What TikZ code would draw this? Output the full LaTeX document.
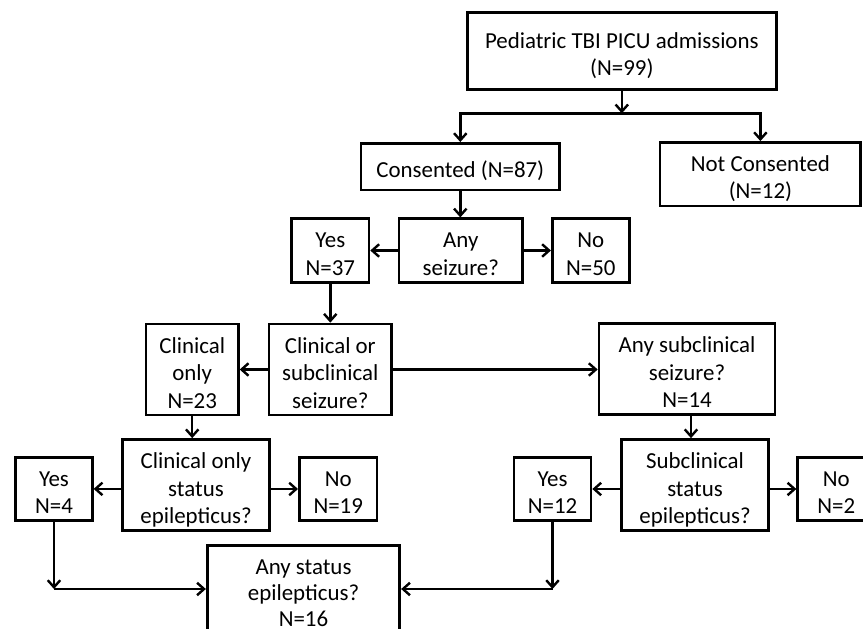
\documentclass[tikz,border=0pt]{standalone}
\usepackage{fontspec}
\setmainfont{Carlito}
\usetikzlibrary{arrows.meta}
\newcommand{\myupstrut}{\rule{0pt}{29pt}}
\newcommand{\mydownstrut}{\rule[-7pt]{0pt}{7pt}}
\begin{document}
\begin{tikzpicture}[x=1pt,y=-1pt,
  box/.style={draw=black, line width=2.7pt, fill=white, align=center, inner sep=0pt,
    font=\fontsize{22.9pt}{27.5pt}\selectfont},
  arr/.style={draw=black, line width=2.4pt, -{Straight Barb[length=7pt,width=12.5pt]}}]
\useasboundingbox (0,0) rectangle (863,629);
\clip (0,0) rectangle (863,629);
\fill[white] (0,0) rectangle (863,629);

\node[box, minimum width=309pt, minimum height=77pt] (top) at (621.8,50.8) {\myupstrut Pediatric TBI PICU admissions\\(N=99)\mydownstrut};
\node[box, minimum width=198.6pt, minimum height=46.7pt] (cons) at (460.3,166.7) {\myupstrut Consented (N=87)\mydownstrut};
\node[box, minimum width=200.7pt, minimum height=61.7pt] (notcons) at (760.4,174.2) {\myupstrut Not Consented\\(N=12)\mydownstrut};
\node[box, minimum width=77.3pt, minimum height=61pt] (yes37) at (330.3,250.5) {\myupstrut Yes\\N=37\mydownstrut};
\node[box, minimum width=123.7pt, minimum height=61pt] (anyseiz) at (460.8,250.5) {\myupstrut Any\\seizure?\mydownstrut};
\node[box, minimum width=77pt, minimum height=61pt] (no50) at (590.8,250.5) {\myupstrut No\\N=50\mydownstrut};
\node[box, minimum width=122.7pt, minimum height=84.4pt] (clinsub) at (330.3,369.5) {\myupstrut Clinical or\\subclinical\\seizure?\mydownstrut};
\node[box, minimum width=92.3pt, minimum height=84.4pt] (clinonly) at (192.2,369.5) {\myupstrut Clinical\\only\\N=23\mydownstrut};
\node[box, minimum width=176pt, minimum height=83.7pt] (anysub) at (687,369.2) {\myupstrut Any subclinical\\seizure?\\N=14\mydownstrut};
\node[box, minimum width=146.6pt, minimum height=84.6pt] (clinstat) at (196,485) {\myupstrut Clinical only\\status\\epilepticus?\mydownstrut};
\node[box, minimum width=76.6pt, minimum height=61.7pt] (yes4) at (54,488.9) {\myupstrut Yes\\N=4\mydownstrut};
\node[box, minimum width=77.7pt, minimum height=62pt] (no19) at (338.2,489) {\myupstrut No\\N=19\mydownstrut};
\node[box, minimum width=146.8pt, minimum height=84.6pt] (subst) at (695,485) {\myupstrut Subclinical\\status\\epilepticus?\mydownstrut};
\node[box, minimum width=77pt, minimum height=62pt] (yes12) at (552.5,489) {\myupstrut Yes\\N=12\mydownstrut};
\node[box, minimum width=77pt, minimum height=62pt] (no2) at (836.2,489) {\myupstrut No\\N=2\mydownstrut};
\node[box, minimum width=192.6pt, minimum height=85pt, font=\fontsize{22.9pt}{26pt}\selectfont] (anystat) at (303.5,589.5) {\myupstrut Any status\\epilepticus?\\N=16\mydownstrut};

\coordinate (jt) at (621.8,113.3);
\coordinate (jl) at (460.3,113.3);
\coordinate (jr) at (760.4,113.3);
\coordinate (c1) at (54,589);
\coordinate (c2) at (552.5,589);

\draw[arr] (top.south) -- (jt);
\draw[arr] (jr) -| (cons.north);
\draw[arr] (jl) -| (notcons.north);
\draw[arr] (cons.south) -- (cons.south |- anyseiz.north);
\draw[arr] (anyseiz.west) -- (yes37.east);
\draw[arr] (anyseiz.east) -- (no50.west);
\draw[arr] (yes37.south) -- (yes37.south |- clinsub.north);
\draw[arr] (clinsub.west) -- (clinonly.east);
\draw[arr] (clinsub.east) -- (clinsub.east -| anysub.west);
\draw[arr] (clinonly.south) -- (clinonly.south |- clinstat.north);
\draw[arr] (clinstat.west |- yes4.east) -- (yes4.east);
\draw[arr] (clinstat.east |- no19.west) -- (no19.west);
\draw[arr] ([xshift=4pt]anysub.south) -- ([xshift=4pt]anysub.south |- subst.north);
\draw[arr] (subst.west |- yes12.east) -- (yes12.east);
\draw[arr] (subst.east |- no2.west) -- (no2.west);
\draw[arr] (yes4.south) -- (c1);
\draw[arr] (c1) -- (c1 -| anystat.west);
\draw[arr] (yes12.south) -- (c2);
\draw[arr] (c2) -- (c2 -| anystat.east);
\end{tikzpicture}
\end{document}
